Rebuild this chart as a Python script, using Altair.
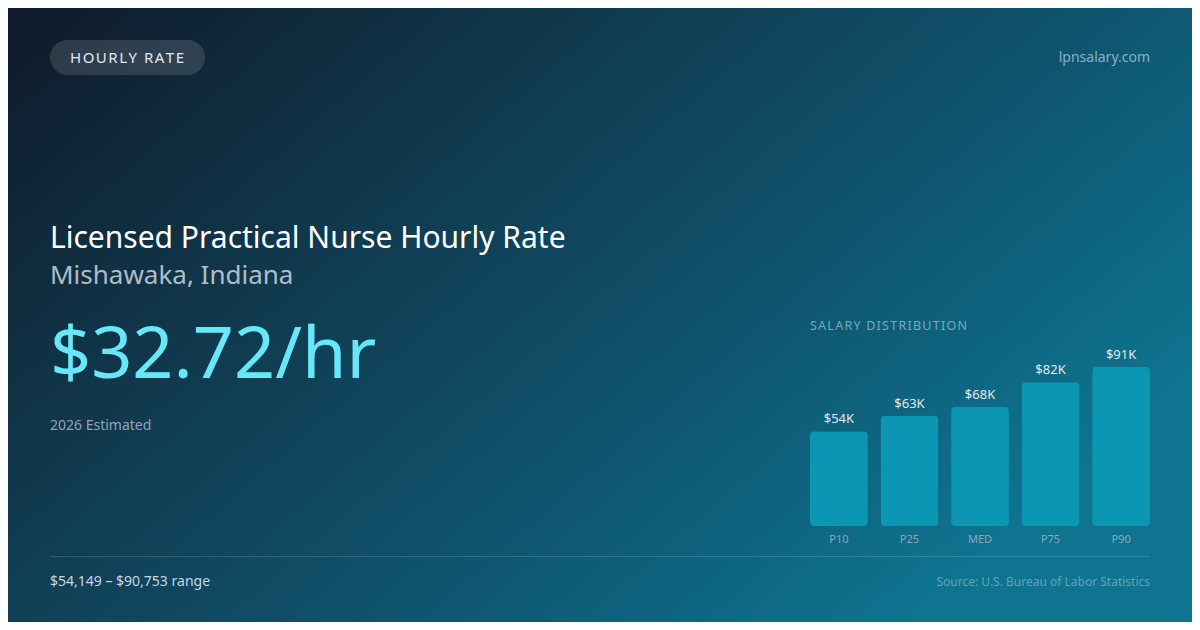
import altair as alt
import pandas as pd

# ---- data ----
categories = ["P10", "P25", "MED", "P75", "P90"]
salaries = [54149, 63000, 68058, 82000, 90753]
value_labels = ["$54K", "$63K", "$68K", "$82K", "$91K"]

W, H = 1184, 614
OFF = 8  # page margin offset
FONT = "Noto Sans"

bars_df = pd.DataFrame({"cat": categories, "value": salaries, "label": value_labels})
one = pd.DataFrame({"k": [0]})

def px(v):
    return v - OFF

# background gradient
bg = alt.Chart(one).mark_rect(
    color=alt.Gradient(
        gradient="linear",
        stops=[
            alt.GradientStop(color="#0f1a2a", offset=0),
            alt.GradientStop(color="#10384c", offset=0.35),
            alt.GradientStop(color="#0f5670", offset=0.7),
            alt.GradientStop(color="#0e7490", offset=1),
        ],
        x1=0, y1=0, x2=1, y2=0.6,
    )
).encode(x=alt.value(0), x2=alt.value(W), y=alt.value(0), y2=alt.value(H))

def text(t, x, y, size, color, align="left", baseline="alphabetic", opacity=1.0, weight="normal"):
    return alt.Chart(one).mark_text(
        text=t, font=FONT, fontSize=size, color=color, align=align,
        baseline=baseline, opacity=opacity, fontWeight=weight,
    ).encode(x=alt.value(px(x)), y=alt.value(px(y)))

pill = alt.Chart(one).mark_rect(
    color="#ffffff", opacity=0.13, cornerRadius=17.5
).encode(x=alt.value(px(50)), x2=alt.value(px(205)), y=alt.value(px(40)), y2=alt.value(px(75)))

hs = "\u200a"
pill_text = text(hs.join("HOURLY RATE"), 127, 58, 15, "#e2e8f0", align="center", baseline="middle")
site = text("lpnsalary.com", 1150, 58, 14, "#a5c8d8", align="right", baseline="middle", opacity=0.8)
title = text("Licensed Practical Nurse Hourly Rate", 50, 248, 30, "#ffffff")
subtitle = text("Mishawaka, Indiana", 50, 284, 26, "#cbd5e1", opacity=0.85)
price = text("$32.72/hr", 50, 378, 72, "#67e8f9")
est = text("2026 Estimated", 50, 430, 14, "#94a3b8")
dist = text(hs.join("SALARY DISTRIBUTION"), 810, 330, 12.5, "#a5c8d8", opacity=0.7)
rng = text("$54,149 \u2013 $90,753 range", 50, 586, 14, "#cbd5e1")
src = text("Source: U.S. Bureau of Labor Statistics", 1150, 586, 12, "#a5c8d8", align="right", opacity=0.55)

divider = alt.Chart(one).mark_rule(color="#ffffff", opacity=0.15, strokeWidth=1).encode(
    x=alt.value(px(50)), x2=alt.value(px(1150)), y=alt.value(px(556.5))
)

xs = alt.X("cat:N", sort=categories, axis=None,
           scale=alt.Scale(range=[px(810), px(1150)], paddingInner=0.18, paddingOuter=0))
ys = alt.Y("value:Q", axis=None,
           scale=alt.Scale(domain=[0, 90753], range=[px(526), px(367)], nice=False, zero=True))

bars = alt.Chart(bars_df).mark_bar(color="#0b9bb8", opacity=0.9, cornerRadius=4).encode(x=xs, y=ys)
bar_labels = alt.Chart(bars_df).mark_text(
    font=FONT, fontSize=13, color="#e2e8f0", baseline="alphabetic", dy=-8
).encode(x=xs, y=ys, text="label:N")
cat_labels = alt.Chart(bars_df).mark_text(
    font=FONT, fontSize=11, color="#94a3b8", baseline="alphabetic"
).encode(x=xs, y=alt.value(px(543)), text="cat:N")

chart = alt.layer(
    bg, pill, pill_text, site, title, subtitle, price, est, dist,
    bars, bar_labels, cat_labels, divider, rng, src
).properties(
    width=W, height=H, padding=0, autosize=alt.AutoSizeParams(type="none")
).configure_view(stroke=None).configure(background="#0f1a2a")

chart.save("out.html", embed_options={"renderer": "svg", "actions": False})
